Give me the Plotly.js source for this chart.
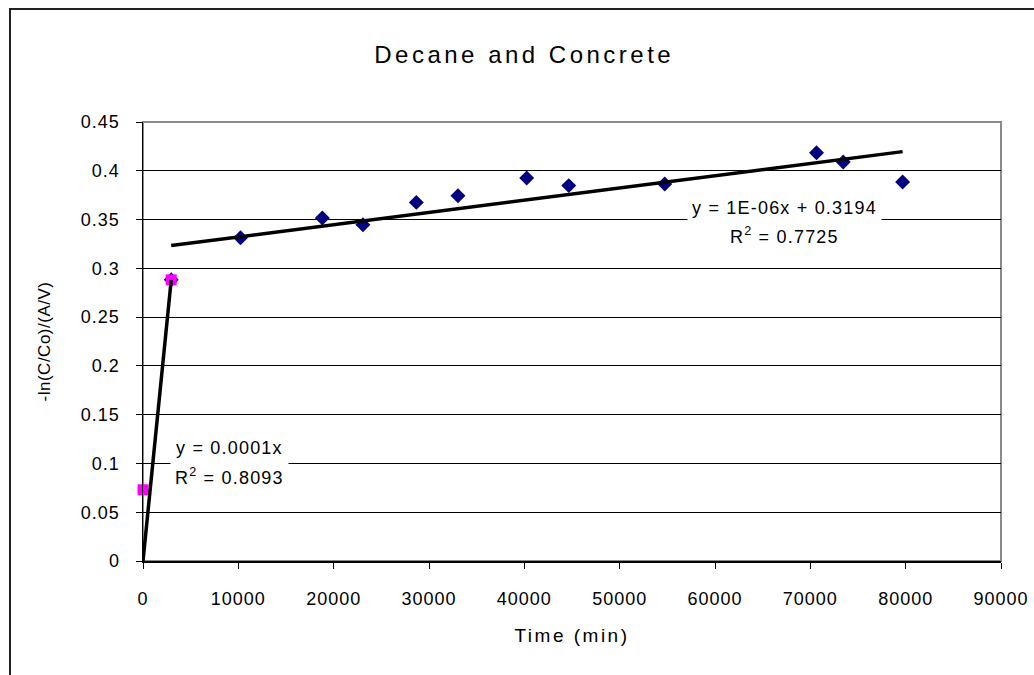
<!DOCTYPE html>
<html>
<head>
<meta charset="utf-8">
<script src="https://cdn.plot.ly/plotly-3.0.1.min.js"></script>
<style>
  html, body { margin: 0; padding: 0; background: #fff; }
  #wrap { position: relative; width: 1034px; height: 675px; overflow: hidden; }
  #chart { width: 1034px; height: 675px; }
  /* chart-area frame (left and top edges visible) */
  #frame { position: absolute; left: 9px; top: 8px; width: 1100px; height: 720px;
           border-left: 2px solid #222; border-top: 2px solid #222; pointer-events: none; }
  .gtitle { letter-spacing: 3.5px; }
  .xtitle { letter-spacing: 2.5px; }
  .ytitle { letter-spacing: 0.5px; }
  .xtick text, .ytick text { letter-spacing: 1px; }
  .annotation-text { letter-spacing: 1.2px; }
</style>
</head>
<body>
<div id="wrap">
  <div id="chart"></div>
  <div id="frame"></div>
</div>
<script>
// Long-term decane loss into concrete
const timeMin  = [2960, 10230, 18810, 23070, 28670, 33040, 40250, 44660, 54730, 70650, 73450, 79680];
const lnRatio  = [0.2882, 0.3313, 0.3516, 0.3447, 0.3676, 0.3745, 0.3927, 0.3848, 0.3865, 0.4184, 0.4091, 0.3886];

// Early-time points
const earlyTime    = [0, 2960];
const earlyLnRatio = [0.0730, 0.2882];

// Trendline labels
const lateEqText  = 'y = 1E-06x + 0.3194';
const lateR2Text  = 'R<sup>2</sup> = 0.7725';
const earlyEqText = 'y = 0.0001x';
const earlyR2Text = 'R<sup>2</sup> = 0.8093';

const xTickVals = [0, 10000, 20000, 30000, 40000, 50000, 60000, 70000, 80000, 90000];
const yTickVals = [0, 0.05, 0.1, 0.15, 0.2, 0.25, 0.3, 0.35, 0.4, 0.45];

// least-squares line y = a*x + b
function linFit(xs, ys) {
  const n = xs.length;
  const mx = xs.reduce((s, v) => s + v, 0) / n;
  const my = ys.reduce((s, v) => s + v, 0) / n;
  let sxy = 0, sxx = 0;
  for (let i = 0; i < n; i++) { sxy += (xs[i] - mx) * (ys[i] - my); sxx += (xs[i] - mx) ** 2; }
  const a = sxy / sxx;
  return { a: a, b: my - a * mx };
}
// least-squares line through the origin y = a*x
function originFit(xs, ys) {
  let sxy = 0, sxx = 0;
  for (let i = 0; i < xs.length; i++) { sxy += xs[i] * ys[i]; sxx += xs[i] * xs[i]; }
  return { a: sxy / sxx };
}

const late = linFit(timeMin, lnRatio);
const early = originFit(earlyTime, earlyLnRatio);
const lateX = [Math.min(...timeMin), Math.max(...timeMin)];
const earlyX = [Math.min(...earlyTime), Math.max(...earlyTime)];

const traces = [
  {
    x: timeMin, y: lnRatio, type: 'scatter', mode: 'markers', cliponaxis: false,
    marker: { symbol: 'diamond', size: 11.5, color: '#000080', line: { width: 0 } }
  },
  {
    x: earlyTime, y: earlyLnRatio, type: 'scatter', mode: 'markers', cliponaxis: false,
    marker: { symbol: 'square', size: 11, color: '#ff00ff', line: { width: 0 } }
  },
  {
    x: lateX, y: lateX.map(v => late.a * v + late.b), type: 'scatter', mode: 'lines',
    line: { color: '#000', width: 3.5 }
  },
  {
    x: earlyX, y: earlyX.map(v => early.a * v), type: 'scatter', mode: 'lines', cliponaxis: false,
    line: { color: '#000', width: 3.5 }
  }
];

const tickFont = { family: 'Liberation Sans, Arial, sans-serif', size: 18, color: '#000' };
const labelFont = { family: 'Liberation Sans, Arial, sans-serif', size: 18, color: '#000' };

function label(text, x, y) {
  return { text: text, x: x, y: y, xref: 'x', yref: 'y', showarrow: false,
           font: labelFont, bgcolor: '#fff', borderpad: 4, xanchor: 'center', yanchor: 'middle' };
}

const layout = {
  width: 1034, height: 675,
  margin: { l: 143, r: 33, t: 122, b: 114 },
  paper_bgcolor: '#fff', plot_bgcolor: '#fff',
  showlegend: false,
  title: {
    text: 'Decane and Concrete',
    font: { family: 'Liberation Sans, Arial, sans-serif', size: 24, color: '#000' },
    xref: 'container', x: 0.507, xanchor: 'center', yref: 'container', y: 1 - 55 / 675, yanchor: 'middle'
  },
  xaxis: {
    range: [0, 90000], tickvals: xTickVals, tickformat: 'd',
    showgrid: false, zeroline: false,
    showline: true, linecolor: '#000', linewidth: 1.5,
    ticks: 'outside', ticklen: 6, tickwidth: 1, tickcolor: '#000',
    ticklabelstandoff: 15, tickfont: tickFont,
    title: { text: 'Time (min)', standoff: 20,
             font: { family: 'Liberation Sans, Arial, sans-serif', size: 19, color: '#000' } }
  },
  yaxis: {
    range: [0, 0.45], tickvals: yTickVals,
    showgrid: true, gridcolor: '#000', gridwidth: 1, zeroline: false,
    showline: true, linecolor: '#000', linewidth: 1.5,
    ticks: 'outside', ticklen: 6, tickwidth: 1, tickcolor: '#000',
    ticklabelstandoff: 12, tickfont: tickFont,
    title: { text: '-ln(C/Co)/(A/V)', standoff: 26,
             font: { family: 'Liberation Sans, Arial, sans-serif', size: 17, color: '#000' } }
  },
  shapes: [
    { type: 'rect', xref: 'paper', yref: 'paper', x0: 0, x1: 1, y0: 0, y1: 1,
      line: { color: '#8a8a8a', width: 2 }, layer: 'below' }
  ],
  annotations: [
    label(lateEqText, 67300, 0.3622),
    label(lateR2Text, 67300, 0.3334),
    label(earlyEqText, 9100, 0.1156),
    label(earlyR2Text, 9100, 0.0868)
  ]
};

Plotly.newPlot('chart', traces, layout, { displayModeBar: false, staticPlot: true });
</script>
</body>
</html>
